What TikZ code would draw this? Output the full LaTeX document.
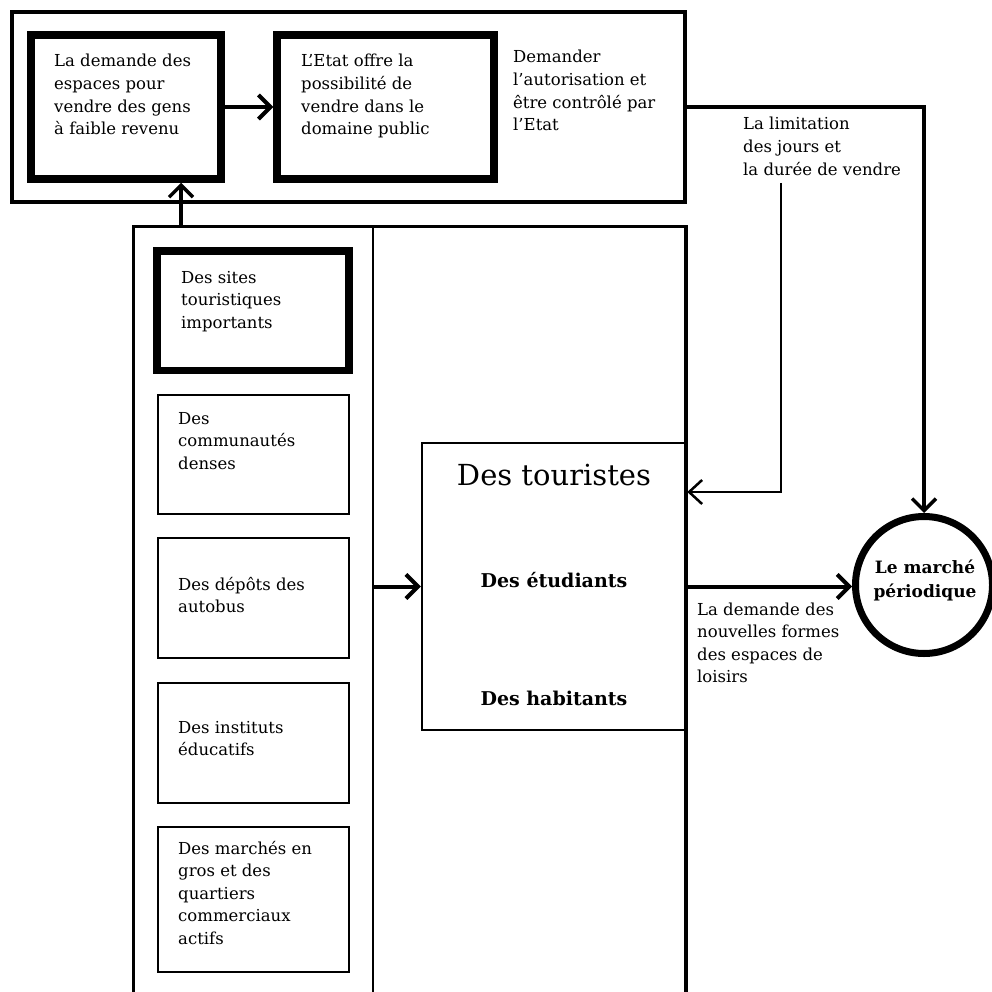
\documentclass[tikz,border=0pt]{standalone}
\usepackage{fontspec}
\setmainfont{DejaVu Serif}
\usetikzlibrary{arrows.meta}
\newcommand{\mylinesL}[1]{\begin{tabular}[t]{@{}l@{}}#1\end{tabular}}
\newcommand{\mylinesC}[1]{\begin{tabular}[t]{@{}c@{}}#1\end{tabular}}
\begin{document}
\begin{tikzpicture}[x=1pt,y=-1pt,
  frame/.style={draw, line width=3.5pt, inner sep=0pt},
  thickbox/.style={draw, line width=7.5pt, inner sep=0pt},
  thinbox/.style={draw, line width=2.5pt, inner sep=0pt},
  txt/.style={inner sep=0pt, anchor=base west, font=\fontsize{16.5}{22.6}\selectfont},
  bigtxt/.style={inner sep=0pt, anchor=base, font=\fontsize{29}{34}\selectfont},
  boldtxt/.style={inner sep=0pt, anchor=base, font=\fontsize{19}{24}\selectfont\bfseries},
  arr/.style={-{Straight Barb[length=12pt,width=24pt]}, line width=4pt},
  thinarr/.style={-{Straight Barb[length=13pt,width=24pt]}, line width=2.5pt},
]
\useasboundingbox (0,0) rectangle (992,992);
\clip (0,0) rectangle (992,992);
\fill[white] (0,0) rectangle (992,992);

% top frame and its boxes
\node[frame, minimum width=673pt, minimum height=190pt] (top) at (348.5,107) {};
\node[thickbox, minimum width=190pt, minimum height=144pt] (b1) at (126,107) {};
\node[thickbox, minimum width=217pt, minimum height=144pt] (b2) at (385.5,107) {};
\node[txt] (t1) at (54,67) {\mylinesL{La demande des\\espaces pour\\vendre des gens\\à faible revenu}};
\node[txt] (t2) at (301,67) {\mylinesL{L’Etat offre la\\possibilité de\\vendre dans le\\domaine public}};
\node[txt] (t3) at (513,63) {\mylinesL{Demander\\l’autorisation et\\être contrôlé par\\l’Etat}};

% lower frame
\node[frame, minimum width=552.5pt, minimum height=783pt] (low) at (409.75,618) {};
\coordinate (divtop) at (373,226.5);
\coordinate (divbot) at (373,1000);
\draw[line width=2.5pt] (divtop) -- (divbot);

% left column boxes
\node[thickbox, minimum width=192pt, minimum height=119.5pt] (s1) at (253,310.75) {};
\node[thinbox, minimum width=191pt, minimum height=119pt] (s2) at (253.5,454.5) {};
\node[thinbox, minimum width=191pt, minimum height=120pt] (s3) at (253.5,598) {};
\node[thinbox, minimum width=191pt, minimum height=120pt] (s4) at (253.5,743) {};
\node[thinbox, minimum width=191pt, minimum height=145pt] (s5) at (253.5,899.5) {};
\node[txt] (ts1) at (181,283) {\mylinesL{Des sites\\touristiques\\importants}};
\node[txt] (ts2) at (178,424) {\mylinesL{Des\\communautés\\denses}};
\node[txt] (ts3) at (178,590) {\mylinesL{Des dépôts des\\autobus}};
\node[txt] (ts4) at (178,733) {\mylinesL{Des instituts\\éducatifs}};
\node[txt] (ts5) at (178,854) {\mylinesL{Des marchés en\\gros et des\\quartiers\\commerciaux\\actifs}};

% middle box
\node[thinbox, minimum width=264pt, minimum height=287pt] (mid) at (554,586.5) {};
\node[bigtxt] (tm1) at (554,485) {Des touristes};
\node[boldtxt] (tm2) at (554,587) {Des étudiants};
\node[boldtxt] (tm3) at (554,705) {Des habitants};

% circle
\node[circle, draw, line width=7pt, minimum size=137pt, inner sep=0pt] (mp) at (924,585) {};
\node[inner sep=0pt, anchor=base, font=\fontsize{17}{24}\selectfont\bfseries] (tmp) at (925,573) {\mylinesC{Le marché\\périodique}};

% labels
\node[txt] (tl1) at (743,130) {\mylinesL{La limitation\\des jours et\\la durée de vendre}};
\node[txt] (tl2) at (697,615) {\mylinesL{La demande des\\nouvelles formes\\des espaces de\\loisirs}};

% connectors
\draw[arr] (b1.east) -- (b2.west);
\coordinate (upx) at (181,0);
\draw[arr, line width=3.5pt] (low.north -| upx) -- (b1.south -| upx);
\draw[arr, line width=3.5pt] (top.east) -| (mp.north);
\coordinate (lim) at (781,183);
\coordinate (limturn) at (781,492);
\draw[thinarr] (lim) -- (limturn) -- (limturn -| mid.east);
\coordinate (div) at (373,586.5);
\draw[arr] (div) -- (mid.west);
\draw[arr] (mid.east) -- (mid.east -| mp.west);
\end{tikzpicture}
\end{document}
